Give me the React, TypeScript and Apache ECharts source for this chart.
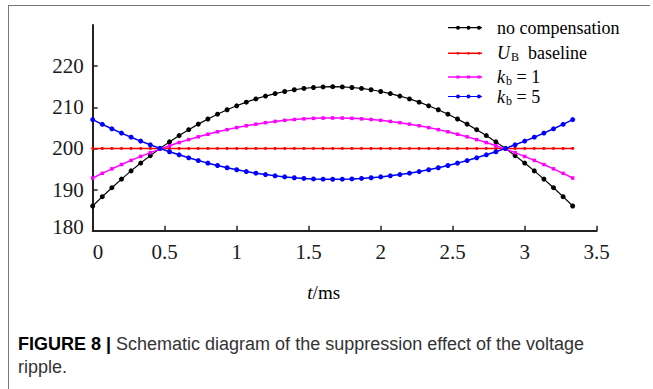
import React, { useEffect, useRef } from "react";
import * as echarts from "echarts";

const times = [0, 0.0667, 0.1333, 0.2, 0.2667, 0.3333, 0.4, 0.4667, 0.5333, 0.6, 0.6667, 0.7333, 0.8, 0.8667, 0.9333, 1.0, 1.0667, 1.1333, 1.2, 1.2667, 1.3333, 1.4, 1.4667, 1.5333, 1.6, 1.6667, 1.7333, 1.8, 1.8667, 1.9333, 2.0, 2.0667, 2.1333, 2.2, 2.2667, 2.3333, 2.4, 2.4667, 2.5333, 2.6, 2.6667, 2.7333, 2.8, 2.8667, 2.9333, 3.0, 3.0667, 3.1333, 3.2, 3.2667, 3.3333];

const noCompensation = [186.0, 188.27, 190.45, 192.54, 194.54, 196.44, 198.25, 199.97, 201.59, 203.12, 204.56, 205.91, 207.16, 208.32, 209.39, 210.36, 211.24, 212.03, 212.73, 213.33, 213.84, 214.26, 214.58, 214.81, 214.95, 215.0, 214.95, 214.81, 214.58, 214.26, 213.84, 213.33, 212.73, 212.03, 211.24, 210.36, 209.39, 208.32, 207.16, 205.91, 204.56, 203.12, 201.59, 199.97, 198.25, 196.44, 194.54, 192.54, 190.45, 188.27, 186.0];

const baseline = [200, 200, 200, 200, 200, 200, 200, 200, 200, 200, 200, 200, 200, 200, 200, 200, 200, 200, 200, 200, 200, 200, 200, 200, 200, 200, 200, 200, 200, 200, 200, 200, 200, 200, 200, 200, 200, 200, 200, 200, 200, 200, 200, 200, 200, 200, 200, 200, 200, 200, 200];

const kb1 = [192.8, 193.94, 195.04, 196.09, 197.1, 198.06, 198.97, 199.83, 200.65, 201.42, 202.14, 202.82, 203.45, 204.04, 204.57, 205.06, 205.51, 205.9, 206.26, 206.56, 206.82, 207.03, 207.19, 207.31, 207.38, 207.4, 207.38, 207.31, 207.19, 207.03, 206.82, 206.56, 206.26, 205.9, 205.51, 205.06, 204.57, 204.04, 203.45, 202.82, 202.14, 201.42, 200.65, 199.83, 198.97, 198.06, 197.1, 196.09, 195.04, 193.94, 192.8];

const kb5 = [207.0, 205.86, 204.77, 203.73, 202.73, 201.78, 200.88, 200.02, 199.2, 198.44, 197.72, 197.05, 196.42, 195.84, 195.31, 194.82, 194.38, 193.98, 193.64, 193.34, 193.08, 192.87, 192.71, 192.59, 192.52, 192.5, 192.52, 192.59, 192.71, 192.87, 193.08, 193.34, 193.64, 193.98, 194.38, 194.82, 195.31, 195.84, 196.42, 197.05, 197.72, 198.44, 199.2, 200.02, 200.88, 201.78, 202.73, 203.73, 204.77, 205.86, 207.0];

const xTicks = [0, 0.5, 1, 1.5, 2, 2.5, 3, 3.5];
const yTicks = [180, 190, 200, 210, 220];

const seriesNames = ["no compensation", "UB baseline", "kb1", "kb5"];
const legendLabels: Record<string, string> = {
  "no compensation": "{sp|}no compensation",
  "UB baseline": "{sp|}{i|U}{sub|B}  baseline",
  kb1: "{sp|}{i|k}{sub|b} = 1",
  kb5: "{sp|}{i|k}{sub|b} = 5",
};

const SERIF = "'Liberation Serif', 'Times New Roman', serif";
const SANS = "'Liberation Sans', Arial, sans-serif";

const iconCircle =
  "path://M0 1.9L34 1.9L34 3.1L0 3.1Z M8 2.5A2 2 0 1 1 12 2.5A2 2 0 1 1 8 2.5Z M18.5 2.5A2 2 0 1 1 22.5 2.5A2 2 0 1 1 18.5 2.5Z M29 2.5A2 2 0 1 1 33 2.5A2 2 0 1 1 29 2.5Z";
const iconSmall =
  "path://M0 0.5L34 0.5L34 4.5L34 4.5L34 0.5Z M0 1.8L34 1.8L34 3.2L0 3.2Z M8.6 2.5A1.4 1.4 0 1 1 11.4 2.5A1.4 1.4 0 1 1 8.6 2.5Z M19.1 2.5A1.4 1.4 0 1 1 21.9 2.5A1.4 1.4 0 1 1 19.1 2.5Z M29.6 2.5A1.4 1.4 0 1 1 32.4 2.5A1.4 1.4 0 1 1 29.6 2.5Z";
const iconSquare =
  "path://M0 1.8L34 1.8L34 3.2L0 3.2Z M8.5 1L11.5 1L11.5 4L8.5 4Z M19 1L22 1L22 4L19 4Z M29.5 1L32.5 1L32.5 4L29.5 4Z";

export default function App() {
  const ref = useRef<HTMLDivElement>(null);
  useEffect(() => {
    if (!ref.current) return;
    const chart = echarts.init(ref.current, undefined, { renderer: "svg" });
    const richText = {
      sp: { width: 10, lineHeight: 18 },
      i: { fontStyle: "italic", fontFamily: SERIF, fontSize: 18, color: "#000", lineHeight: 18 },
      sub: { fontFamily: SERIF, fontSize: 12, color: "#000", lineHeight: 10, padding: [8, 0, 0, 1] },
    };
    const legendRow = (name: string, top: number, icon: string) => ({
      data: [{ name, icon }],
      left: 448,
      top,
      padding: 0,
      itemWidth: 34,
      itemHeight: 4,
      selectedMode: false,
      formatter: (n: string) => legendLabels[n],
      textStyle: { fontFamily: SERIF, fontSize: 18, lineHeight: 18, color: "#000", rich: richText },
    });
    const lineData = (ys: number[]) => times.map((t, k) => [t, ys[k]]);
    chart.setOption({
      animation: false,
      backgroundColor: "#ffffff",
      title: {
        left: 18,
        top: 332,
        padding: 0,
        text:
          "{b|FIGURE 8 |} Schematic diagram of the suppression effect of the voltage\nripple.",
        textStyle: {
          fontFamily: SANS,
          fontSize: 18,
          fontWeight: "normal",
          color: "#333",
          lineHeight: 23,
          rich: {
            b: { fontFamily: SANS, fontSize: 18, fontWeight: "bold", color: "#000", lineHeight: 23 },
          },
        },
      },
      legend: [
        legendRow(seriesNames[0], 18.7, iconCircle),
        legendRow(seriesNames[1], 43.3, iconSmall),
        legendRow(seriesNames[2], 67, iconSquare),
        legendRow(seriesNames[3], 86.5, iconCircle),
      ],
      grid: { left: 92.7, right: 56.3, top: 25, bottom: 158.3, containLabel: false },
      xAxis: {
        type: "value",
        min: 0,
        max: 3.5,
        interval: 0.5,
        name: "{i|t}/ms",
        nameLocation: "middle",
        nameGap: 52,
        nameTextStyle: {
          fontFamily: SERIF,
          fontSize: 19,
          color: "#000",
          padding: [0, 42, 0, 0],
          rich: { i: { fontStyle: "italic", fontFamily: SERIF, fontSize: 19, color: "#000" } },
        },
        axisLine: { show: true, lineStyle: { color: "#222", width: 2 } },
        axisTick: { show: true, inside: true, length: 5, lineStyle: { color: "#222", width: 1.5 }, customValues: xTicks },
        axisLabel: {
          customValues: xTicks,
          fontFamily: SERIF,
          fontSize: 21,
          color: "#1a1a1a",
          margin: 11,
          alignMinLabel: "left",
        },
        splitLine: { show: false },
      },
      yAxis: {
        type: "value",
        min: 180,
        max: 230,
        interval: 10,
        axisLine: { show: true, lineStyle: { color: "#222", width: 2 } },
        axisTick: { show: true, inside: true, length: 5, lineStyle: { color: "#222", width: 1.5 }, customValues: yTicks },
        axisLabel: {
          customValues: yTicks,
          fontFamily: SERIF,
          fontSize: 21,
          color: "#1a1a1a",
          margin: 9,
          formatter: (v: number) => (v === 180 ? "{lo|" + v + "}" : String(v)),
          rich: { lo: { fontFamily: SERIF, fontSize: 21, color: "#1a1a1a", padding: [0, 0, 8, 0] } },
        },
        splitLine: { show: false },
      },
      series: [
        {
          name: seriesNames[0],
          type: "line",
          data: lineData(noCompensation),
          symbol: "circle",
          symbolSize: 5,
          showAllSymbol: true,
          lineStyle: { color: "#000", width: 1.2 },
          itemStyle: { color: "#000" },
          z: 2,
        },
        {
          name: seriesNames[1],
          type: "line",
          data: lineData(baseline),
          symbol: "circle",
          symbolSize: 3,
          showAllSymbol: true,
          lineStyle: { color: "#ff0000", width: 1.5 },
          itemStyle: { color: "#ff0000" },
          z: 3,
        },
        {
          name: seriesNames[2],
          type: "line",
          data: lineData(kb1),
          symbol: "rect",
          symbolSize: 3.5,
          showAllSymbol: true,
          lineStyle: { color: "#ff00ff", width: 1.5 },
          itemStyle: { color: "#ff00ff" },
          z: 4,
        },
        {
          name: seriesNames[3],
          type: "line",
          data: lineData(kb5),
          symbol: "circle",
          symbolSize: 5,
          showAllSymbol: true,
          lineStyle: { color: "#0000ff", width: 1.5 },
          itemStyle: { color: "#0000ff" },
          z: 5,
        },
      ],
      graphic: [
        { type: "line", shape: { x1: 8, y1: 5.5, x2: 650, y2: 5.5 }, style: { stroke: "#777", lineWidth: 1 }, silent: true },
        { type: "line", shape: { x1: 8.5, y1: 5, x2: 8.5, y2: 389 }, style: { stroke: "#777", lineWidth: 1 }, silent: true },
      ],
    });
    return () => chart.dispose();
  }, []);
  return (
    <div
      ref={ref}
      style={{ position: "fixed", left: 0, top: 0, width: 653, height: 389 }}
    />
  );
}
